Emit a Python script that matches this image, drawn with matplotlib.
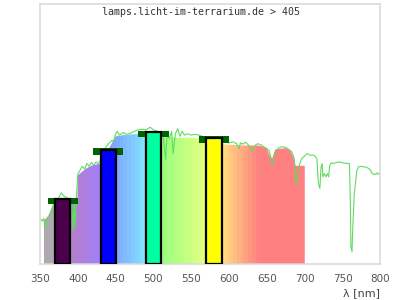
import matplotlib
matplotlib.use('Agg')
import matplotlib.pyplot as plt
import numpy as np
from matplotlib.colors import LinearSegmentedColormap
from matplotlib.patches import Polygon

# Mesured lamp spectrum (relative units)
spec_nm = [351, 353, 355, 357, 358, 360, 362, 364, 366, 368, 370, 375, 378, 382, 386,
           390, 392, 393.5, 395, 396.5, 398, 400, 403, 406, 409, 412, 415, 418, 421, 424,
           427, 430, 435, 440, 445, 447, 450, 452, 455, 460, 465, 470, 475, 480, 485,
           490, 495.6, 500, 505, 510, 513, 516, 518, 521, 524, 526, 529, 532, 535, 538,
           541, 545, 550, 555, 560, 565, 570, 580, 590, 595, 600, 605, 610, 613, 615,
           618, 622, 626, 628, 630, 634, 638, 642, 646, 650, 653, 655, 657, 659, 661,
           665, 670, 675, 679, 683, 686, 688, 689, 692, 696, 700, 703, 707, 712, 716,
           718, 720, 721.5, 723, 724, 726, 728, 730, 731.6, 733, 735, 738, 742, 745, 748,
           751, 754, 756, 759, 760.3, 761, 762.5, 763.5, 764.6, 765.5, 767, 769, 771, 775,
           778, 781, 784.5, 787, 789, 791, 793.5, 795.6, 797, 799]
spec_val = [17.2, 16.5, 17.5, 13.5, 16, 17.5, 18.5, 20, 21.5, 23, 24, 25.5, 27.3, 26, 25.5,
            24.5, 23, 13, 24, 14, 25, 34.5, 36, 37.5, 36.5, 38.6, 37.5, 39, 38, 39.2,
            38.5, 40, 44, 46, 47.5, 47, 50, 51, 49.5, 50.5, 49.8, 50.3, 51, 51.5, 51.8,
            51.5, 52.5, 51.5, 51, 50, 49, 40, 50, 48, 51, 42.4, 50, 52, 49, 51,
            49.5, 50, 49.5, 49.8, 49.5, 49, 48.5, 48, 46.5, 46.9, 46.5, 46.9, 46.2, 44.3, 46.5,
            46, 46.8, 45.5, 45, 43, 45.5, 46.2, 45.8, 45, 44.3, 43.5, 41, 37.9, 40.5, 43,
            44.5, 45, 44.8, 44, 43, 40.5, 33, 30.3, 37.3, 40.5, 41.5, 42.4, 41.8, 41.8, 40.5,
            31, 29, 37.3, 38.6, 33.5, 34.7, 33.5, 34.7, 33.5, 37.9, 38.8, 38.6, 39, 39.2, 39,
            38.8, 38.7, 38.6, 38.6, 23.3, 6.6, 4.7, 14.3, 21.8, 27, 31, 36, 37.3, 37.5,
            37.3, 37.2, 36.7, 36, 34.7, 34.5, 34.4, 35, 34.5, 34.7]

# Coloured area under the spectrum
fill_nm = [355, 358, 362, 366, 370, 390, 399.5, 400, 410, 420, 430, 450, 460, 480, 510,
           530, 550, 570, 590, 620, 640, 650, 653, 657, 661, 675, 681, 685, 688, 700]
fill_val = [17, 17.5, 19, 21.5, 23, 24, 24, 34, 36.5, 38, 38.5, 49, 49.5, 50, 49,
            48.5, 48.5, 48, 46, 45.5, 45.5, 44.5, 42, 40.5, 44, 44.5, 43.5, 41, 37.7, 37.7]

# Band bars (20 nm wide)
band_nm = [380, 440, 500, 580]
band_val = [24.9, 43.8, 50.5, 48.4]
band_colors = ['#4B004B', '#0000FF', '#00FFA0', '#FFFF00']

xticks = [350, 400, 450, 500, 550, 600, 650, 700, 750, 800]

fig = plt.figure(figsize=(4, 3), dpi=100)
ax = fig.add_axes([0.1, 0.12, 0.851, 0.868])

# gradient fill, clipped to the area under the spectrum
lo, hi = 355, 700
cmap = LinearSegmentedColormap.from_list('spec', [
    ((355 - lo) / (hi - lo), '#B0A8B0'),
    ((370 - lo) / (hi - lo), '#B0A8B0'),
    ((390 - lo) / (hi - lo), '#B880C8'),
    ((430 - lo) / (hi - lo), '#A080FF'),
    ((450 - lo) / (hi - lo), '#80A8FF'),
    ((490 - lo) / (hi - lo), '#80E8FF'),
    ((510 - lo) / (hi - lo), '#98FF80'),
    ((570 - lo) / (hi - lo), '#E8FF80'),
    ((590 - lo) / (hi - lo), '#FFE080'),
    ((615 - lo) / (hi - lo), '#FFB080'),
    ((640 - lo) / (hi - lo), '#FF8080'),
    (1.0, '#FF8080'),
])
bands = np.arange(lo, hi, 5) + 2.5
im = ax.imshow(bands[np.newaxis, :], extent=[lo, hi, 0, 100], aspect='auto',
               cmap=cmap, vmin=lo, vmax=hi, interpolation='nearest', zorder=1)
verts = list(zip(fill_nm, fill_val)) + [(hi, 0), (lo, 0)]
clip = Polygon(verts, closed=True, facecolor='none', edgecolor='none')
ax.add_patch(clip)
im.set_clip_path(clip)

ax.plot(spec_nm, spec_val, color='#60DC60', linewidth=0.8, zorder=2)

# dark green caps behind the bars
ax.bar(band_nm, [2.5] * len(band_nm), bottom=[v - 1.9 for v in band_val], width=40,
       color='#006400', zorder=3)
ax.bar(band_nm, band_val, width=20, color=band_colors, edgecolor='black',
       linewidth=1.6, zorder=4)

ax.set_xlim(350, 800)
ax.set_ylim(0, 100)
ax.set_xticks(xticks)
ax.set_yticks([])
ax.tick_params(axis='x', length=0, pad=7, labelsize=7.5, labelcolor='#555555')
for s in ax.spines.values():
    s.set_color('#D8D8D8')
    s.set_linewidth(1.1)

ax.text(1.0, -0.092, 'λ [nm]', transform=ax.transAxes, ha='right', va='top',
        fontsize=8, color='#444444')
fig.text(0.502, 1 - 12 / 300, 'lamps.licht-im-terrarium.de > 405', ha='center', va='center',
         family='DejaVu Sans Mono', fontsize=7.2, color='#333333')

plt.savefig('out.png', dpi=100)
